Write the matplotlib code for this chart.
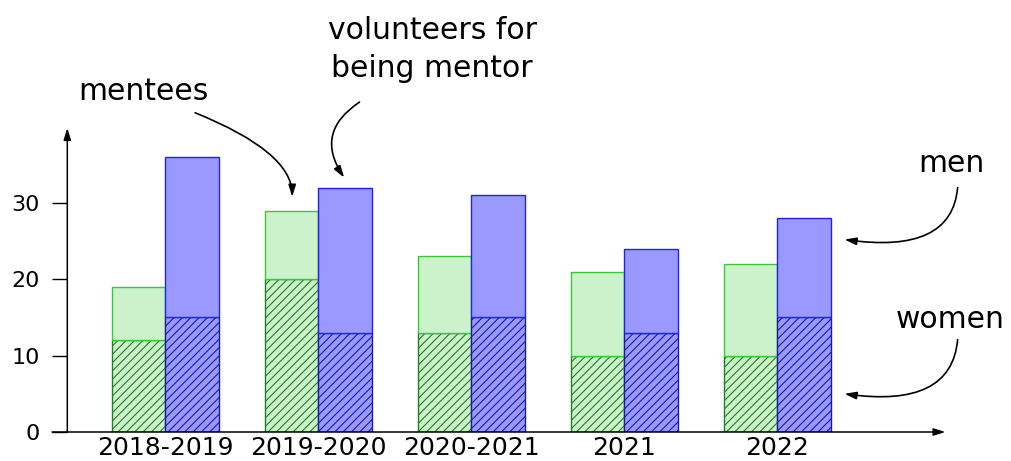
import numpy as np
import matplotlib
matplotlib.use("Agg")
import matplotlib.pyplot as plt

years = ["2018-2019", "2019-2020", "2020-2021", "2021", "2022"]
mentees_total = [19, 29, 23, 21, 22]
mentees_women = [12, 20, 13, 10, 10]
mentors_total = [36, 32, 31, 24, 28]
mentors_women = [15, 13, 15, 13, 15]

mentees_men = [t - w for t, w in zip(mentees_total, mentees_women)]
mentors_men = [t - w for t, w in zip(mentors_total, mentors_women)]

plt.rcParams['font.family'] = ['DejaVu Sans']
plt.rcParams['hatch.linewidth'] = 0.8

fig = plt.figure(figsize=(10.12, 4.61), dpi=100)
ax = fig.add_axes([52 / 1012, 29 / 461, 898 / 1012, 307 / 461])
ax.set_xlim(-0.74, 5.13)
ax.set_ylim(0, 40.2)

x = np.arange(len(years))
w = 0.35

# mentees (green)
ax.bar(x - w / 2, mentees_women, w, color='#ccf2cc', edgecolor='#1f801f',
       hatch='////', linewidth=1.0)
ax.bar(x - w / 2, mentees_men, w, bottom=mentees_women, color='#ccf2cc',
       edgecolor='#33cc33', linewidth=1.0)
# mentors (blue)
ax.bar(x + w / 2, mentors_women, w, color='#9999ff', edgecolor='#1a1aa8',
       hatch='////', linewidth=1.0)
ax.bar(x + w / 2, mentors_men, w, bottom=mentors_women, color='#9999ff',
       edgecolor='#2222ee', linewidth=1.0)

# axes as arrows
for s in ax.spines.values():
    s.set_visible(False)
ax.spines['left'].set_position(('data', -0.64))
head = '-|>,head_length=0.7,head_width=0.22'
ax.annotate('', xy=(5.10, 0), xytext=(-0.74, 0), annotation_clip=False,
            arrowprops=dict(arrowstyle=head, color='black', lw=1.1, shrinkA=0, shrinkB=0))
ax.annotate('', xy=(-0.64, 39.8), xytext=(-0.64, 0), annotation_clip=False,
            arrowprops=dict(arrowstyle=head, color='black', lw=1.1, shrinkA=0, shrinkB=0))

ax.set_yticks([0, 10, 20, 30])
ax.tick_params(axis='y', direction='out', length=11, width=1.0, pad=9, labelsize=16)
ax.set_xticks(x)
ax.set_xticklabels(years)
ax.tick_params(axis='x', length=0, pad=3, labelsize=18)

# annotations
fs = 21.5
ax.text(-0.144, 44.6, "mentees", fontsize=fs, ha='center', va='center', clip_on=False)
ax.text(1.745, 50.1, "volunteers for\nbeing mentor", fontsize=fs, ha='center',
        va='center', linespacing=1.4, clip_on=False)
ax.text(5.14, 35.2, "men", fontsize=fs, ha='center', va='center', clip_on=False)
ax.text(5.13, 14.7, "women", fontsize=fs, ha='center', va='center', clip_on=False)

arr = dict(arrowstyle=head, color='black', lw=1.2, shrinkA=0, shrinkB=0)
ax.annotate('', xy=(0.83, 30.8), xytext=(0.196, 41.8), annotation_clip=False,
            arrowprops=dict(arr, connectionstyle='angle3,angleA=-22,angleB=90'))
ax.annotate('', xy=(1.17, 33.3), xytext=(1.27, 43.2), annotation_clip=False,
            arrowprops=dict(arr, connectionstyle='arc3,rad=0.5'))
ax.annotate('', xy=(4.44, 25.2), xytext=(5.18, 32.0), annotation_clip=False,
            arrowprops=dict(arr, connectionstyle='angle3,angleA=-95,angleB=172'))
ax.annotate('', xy=(4.44, 5.0), xytext=(5.18, 12.1), annotation_clip=False,
            arrowprops=dict(arr, connectionstyle='angle3,angleA=-95,angleB=172'))

fig.savefig("out.png", dpi=100)
